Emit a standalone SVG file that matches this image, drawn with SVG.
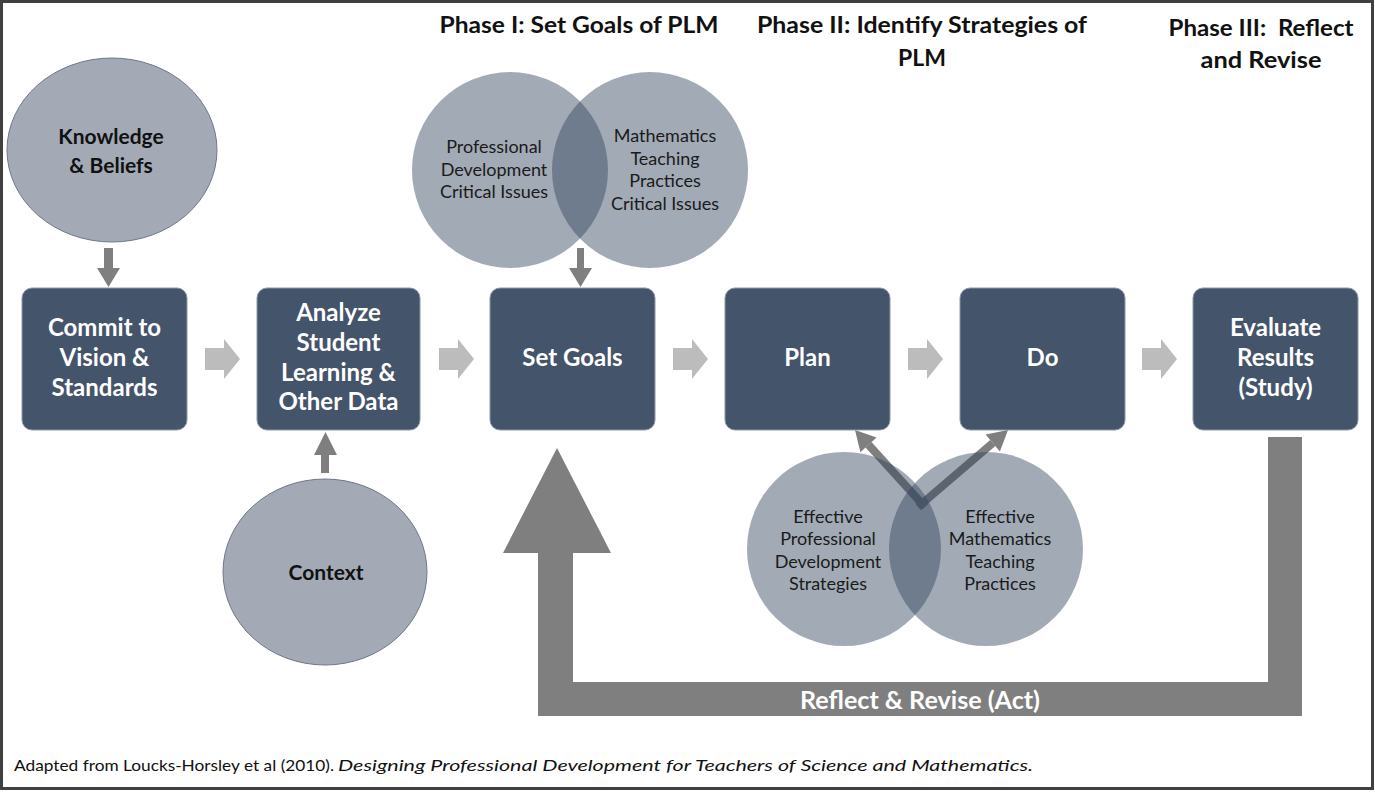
<svg xmlns="http://www.w3.org/2000/svg" width="1375" height="792" viewBox="0 0 1375 792">
<style>
.box{fill:#44546a;stroke:#8e98a6;stroke-width:1}
.bt{font-family:Lato,"Liberation Sans",sans-serif;font-weight:700;font-size:24px;fill:#ffffff;text-anchor:middle}
.hd{font-family:Lato,"Liberation Sans",sans-serif;font-weight:700;font-size:23px;fill:#111111;text-anchor:middle}
.el{fill:#a3aab6;stroke:#6f7888;stroke-width:1}
.et{font-family:Lato,"Liberation Sans",sans-serif;font-weight:700;font-size:21px;fill:#111111;text-anchor:middle}
.vc{fill:#354660;fill-opacity:0.46}
.vt{font-family:Lato,"Liberation Sans",sans-serif;font-size:18px;fill:#1a1a1a;text-anchor:middle}
.ga{fill:#7f7f7f}
.la{fill:#bcbcbc}
.ft{font-family:Lato,"Liberation Sans",sans-serif;font-size:16px;fill:#111111}
</style>
<rect x="0" y="0" width="1375" height="792" fill="#ffffff"/>
<rect x="1.5" y="1.5" width="1371" height="787" fill="none" stroke="#404040" stroke-width="3"/>

<g id="headings">
<text class="hd" x="579" y="33" textLength="279" lengthAdjust="spacingAndGlyphs">Phase I: Set Goals of PLM</text>
<text class="hd" x="922" y="33" textLength="330" lengthAdjust="spacingAndGlyphs">Phase II: Identify Strategies of</text>
<text class="hd" x="922" y="66">PLM</text>
<text class="hd" x="1261" y="36" xml:space="preserve" textLength="185" lengthAdjust="spacingAndGlyphs">Phase III:  Reflect</text>
<text class="hd" x="1261" y="68" textLength="121" lengthAdjust="spacingAndGlyphs">and Revise</text>
</g>

<g id="connectors">
<!-- Knowledge -> Commit -->
<polygon class="ga" points="104,248 113,248 113,268 120,268 108.5,287 97,268 104,268"/>
<!-- Venn -> Set Goals -->
<polygon class="ga" points="577,248 584,248 584,268 592,268 580.5,287 569,268 577,268"/>
<!-- Context -> Analyze -->
<polygon class="ga" points="321,473 329,473 329,455 337,455 325.5,432 314,455 321,455"/>
<!-- block arrows -->
<polygon class="la" points="205,348 224,348 224,339 240,359 224,379 224,370 205,370"/>
<polygon class="la" points="439,348 458,348 458,339 474,359 458,379 458,370 439,370"/>
<polygon class="la" points="673,348 692,348 692,339 708,359 692,379 692,370 673,370"/>
<polygon class="la" points="908,348 927,348 927,339 943,359 927,379 927,370 908,370"/>
<polygon class="la" points="1142,348 1161,348 1161,339 1177,359 1161,379 1161,370 1142,370"/>
<!-- feedback arrow -->
<polygon class="ga" points="1268,437 1302,437 1302,716 538,716 538,553 503,553 557,448 611,553 573,553 573,682 1268,682"/>
<!-- strategies -> Plan / Do -->
<line x1="925" y1="507" x2="868.5" y2="444.8" stroke="#7f7f7f" stroke-width="8"/>
<polygon class="ga" points="855,430 876.6,437.4 860.4,452.2"/>
<line x1="918" y1="507" x2="992.8" y2="443" stroke="#7f7f7f" stroke-width="8"/>
<polygon class="ga" points="1008,430 999.9,451.4 985.6,434.6"/>
</g>

<g id="knowledge">
<ellipse class="el" cx="112" cy="150" rx="105" ry="92"/>
<text class="et" x="111" y="144">Knowledge</text>
<text class="et" x="111" y="173">&amp; Beliefs</text>
</g>

<g id="context">
<ellipse class="el" cx="325" cy="572" rx="102" ry="93"/>
<text class="et" x="326" y="580">Context</text>
</g>

<g id="venn-critical-issues">
<circle class="vc" cx="510" cy="170" r="98"/>
<circle class="vc" cx="650" cy="170" r="98"/>
<text class="vt" x="494" y="153">Professional</text>
<text class="vt" x="494" y="176">Development</text>
<text class="vt" x="494" y="198">Critical Issues</text>
<text class="vt" x="665" y="142">Mathematics</text>
<text class="vt" x="665" y="165">Teaching</text>
<text class="vt" x="665" y="187">Practices</text>
<text class="vt" x="665" y="210">Critical Issues</text>
</g>

<g id="venn-strategies">
<circle class="vc" cx="844" cy="549" r="97"/>
<circle class="vc" cx="986" cy="549" r="97"/>
<text class="vt" x="828" y="523">Effective</text>
<text class="vt" x="828" y="545">Professional</text>
<text class="vt" x="828" y="568">Development</text>
<text class="vt" x="828" y="590">Strategies</text>
<text class="vt" x="1000" y="523">Effective</text>
<text class="vt" x="1000" y="545">Mathematics</text>
<text class="vt" x="1000" y="568">Teaching</text>
<text class="vt" x="1000" y="590">Practices</text>
</g>

<g id="commit">
<rect class="box" x="22" y="288" width="165" height="142" rx="10"/>
<text class="bt" x="104.5" y="336">Commit to</text>
<text class="bt" x="104.5" y="366">Vision &amp;</text>
<text class="bt" x="104.5" y="396">Standards</text>
</g>
<g id="analyze">
<rect class="box" x="257" y="288" width="163" height="142" rx="10"/>
<text class="bt" x="338.5" y="321">Analyze</text>
<text class="bt" x="338.5" y="351">Student</text>
<text class="bt" x="338.5" y="381">Learning &amp;</text>
<text class="bt" x="338.5" y="410">Other Data</text>
</g>
<g id="set-goals">
<rect class="box" x="490" y="288" width="165" height="142" rx="10"/>
<text class="bt" x="572.5" y="366">Set Goals</text>
</g>
<g id="plan">
<rect class="box" x="725" y="288" width="165" height="142" rx="10"/>
<text class="bt" x="807.5" y="366">Plan</text>
</g>
<g id="do">
<rect class="box" x="960" y="288" width="165" height="142" rx="10"/>
<text class="bt" x="1042.5" y="366">Do</text>
</g>
<g id="evaluate">
<rect class="box" x="1193" y="288" width="165" height="142" rx="10"/>
<text class="bt" x="1275.5" y="336">Evaluate</text>
<text class="bt" x="1275.5" y="366">Results</text>
<text class="bt" x="1275.5" y="396">(Study)</text>
</g>

<g id="reflect-label">
<text class="bt" x="920" y="709" textLength="240" lengthAdjust="spacingAndGlyphs">Reflect &amp; Revise (Act)</text>
</g>

<g id="footer">
<text class="ft" x="14" y="771" textLength="320" lengthAdjust="spacingAndGlyphs">Adapted from Loucks-Horsley et al (2010).</text>
<text class="ft" x="338" y="771" font-style="italic" textLength="695" lengthAdjust="spacingAndGlyphs">Designing Professional Development for Teachers of Science and Mathematics.</text>
</g>
</svg>
